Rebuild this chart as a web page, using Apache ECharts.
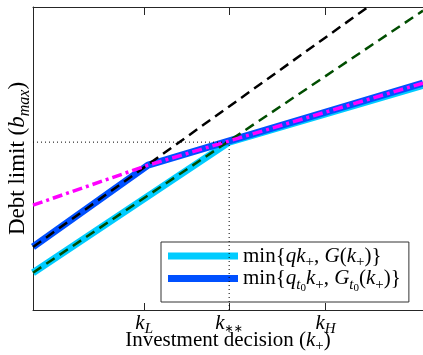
<!DOCTYPE html>
<html>
<head>
<meta charset="utf-8">
<script src="https://cdn.jsdelivr.net/npm/echarts@6/dist/echarts.min.js"></script>
<style>html,body{margin:0;padding:0;background:#fff}#c{width:423px;height:355px}</style>
</head>
<body>
<div id="c"></div>
<script>
// ---- data (abstract units: x 0..100, y 0..100) ----
const tickValues = [28.5, 50.3, 75.0];
const tickLabels = ['{i|k}{s|L}', '{i|k}{a|∗∗}', '{i|k}{s|H}'];
const minQG = [[0, 12.3], [50.3, 55.4], [100, 74.1]];          // min{qk+, G(k+)}
const minQtGt = [[0, 20.8], [29.5, 47.8], [100, 74.9]];        // min{q_t0 k+, G_t0(k+)}
const qLine = [[0, 12.3], [100, 98.8]];                         // q k+
const qtLine = [[0, 20.8], [85.9, 100]];                        // q_t0 k+
const gtCurve = [[0, 34.6], [29.5, 47.8], [100, 74.9]];         // G_t0(k+)
const guideH = [[0, 55.4], [50.3, 55.4]];
const guideV = [[50.3, 0], [50.3, 55.4]];
const legendNames = ['minQG', 'minQtGt'];
const legendLabels = [
  '{r|min{}{i|qk}{p|+}{r|, }{i|G}{r|(}{i|k}{p|+}{r|)}}',
  '{r|min{}{i|q}{s|t}{ss|0}{i|k}{p|+}{r|, }{i|G}{s|t}{ss|0}{r|(}{i|k}{p|+}{r|)}}'
];
const xName = '{r|Investment decision (}{i|k}{p|+}{r|)}';
const yName = '{r|Debt limit (}{i|b}{s|max}{r|)}';

const FONT = 'Liberation Serif';
const AX = '#262626';
function rich(fs, lh) {
  return {
    r: {fontFamily: FONT, fontSize: fs, lineHeight: lh, color: '#000', verticalAlign: 'middle'},
    i: {fontFamily: FONT, fontSize: fs, lineHeight: lh, fontStyle: 'italic', color: '#000', verticalAlign: 'middle'},
    s: {fontFamily: FONT, fontSize: Math.round(fs * 0.7), lineHeight: lh, fontStyle: 'italic', color: '#000', padding: [Math.round(fs * 0.6), 0, 0, 0], verticalAlign: 'middle'},
    a: {fontFamily: 'DejaVu Sans', fontSize: Math.round(fs * 0.5), lineHeight: lh, color: '#000', padding: [Math.round(fs * 0.55), 0, 0, 0], verticalAlign: 'middle'},
    p: {fontFamily: FONT, fontSize: Math.round(fs * 0.7), lineHeight: lh, color: '#000', padding: [Math.round(fs * 0.6), 0, 0, 0], verticalAlign: 'middle'},
    ss: {fontFamily: FONT, fontSize: Math.round(fs * 0.5), lineHeight: lh, color: '#000', padding: [Math.round(fs * 0.95), 0, 0, 0], verticalAlign: 'middle'}
  };
}

const chart = echarts.init(document.getElementById('c'), null, {renderer: 'canvas'});
const option = {
  animation: false,
  backgroundColor: '#fff',
  grid: {left: 33, right: 0, top: 7, bottom: 45, containLabel: false, outerBoundsMode: 'none'},
  xAxis: [{
    type: 'value', min: 0, max: 100, position: 'bottom',
    axisLine: {show: true, onZero: false, lineStyle: {color: AX, width: 1}},
    axisTick: {show: true, inside: true, length: 7, customValues: tickValues, lineStyle: {color: AX}},
    axisLabel: {show: true, margin: 2, customValues: tickValues,
      formatter: v => { let b = 0; tickValues.forEach((t, k) => { if (Math.abs(t - v) < Math.abs(tickValues[b] - v)) b = k; }); return tickLabels[b]; },
      rich: rich(21, 22), fontFamily: FONT, fontSize: 21},
    splitLine: {show: false},
    name: xName, nameLocation: 'middle', nameGap: 19, nameMoveOverlap: false,
    nameTextStyle: {rich: rich(21, 22), fontFamily: FONT, fontSize: 21}
  }, {
    type: 'value', min: 0, max: 100, position: 'top',
    axisLine: {show: true, onZero: false, lineStyle: {color: AX, width: 1}},
    axisTick: {show: true, inside: true, length: 8, customValues: tickValues, lineStyle: {color: AX}},
    axisLabel: {show: false}, splitLine: {show: false}
  }],
  yAxis: [{
    type: 'value', min: 0, max: 100,
    axisLine: {show: true, onZero: false, lineStyle: {color: AX, width: 1}},
    axisTick: {show: false}, axisLabel: {show: false}, splitLine: {show: false},
    name: yName, nameLocation: 'middle', nameGap: 4, nameRotate: 90, nameMoveOverlap: false,
    nameTextStyle: {rich: rich(23, 22), fontFamily: FONT, fontSize: 23}
  }],
  legend: {
    data: legendNames, orient: 'vertical', left: 161, top: 242,
    icon: 'rect', itemWidth: 70, itemHeight: 7, itemGap: -7,
    padding: [0, 8, 8, 7],
    borderColor: '#333', borderWidth: 1, backgroundColor: '#fff',
    formatter: n => legendLabels[legendNames.indexOf(n)],
    textStyle: {fontFamily: FONT, fontSize: 21, lineHeight: 22, color: '#000', rich: rich(21, 22)},
    selectedMode: false
  },
  series: [
    {name: 'minQG', type: 'line', data: minQG, symbol: 'none', z: 2,
      lineStyle: {color: '#00CCFF', width: 7}, itemStyle: {color: '#00CCFF'}},
    {name: 'minQtGt', type: 'line', data: minQtGt, symbol: 'none', z: 3,
      lineStyle: {color: '#0050FF', width: 7}, itemStyle: {color: '#0050FF'}},
    {name: 'qLine', type: 'line', data: qLine, symbol: 'none', z: 4,
      lineStyle: {color: '#004d00', width: 2.5, type: [10, 6]}},
    {name: 'qtLine', type: 'line', data: qtLine, symbol: 'none', z: 5,
      lineStyle: {color: '#000', width: 2.5, type: [10, 6]}},
    {name: 'gtCurve', type: 'line', data: gtCurve, symbol: 'none', z: 6,
      lineStyle: {color: '#FF00FF', width: 3.5, type: [10, 4, 3, 4]}},
    {name: 'guideH', type: 'line', data: guideH, symbol: 'none', z: 7,
      lineStyle: {color: '#000', width: 1, type: [1, 3]}},
    {name: 'guideV', type: 'line', data: guideV, symbol: 'none', z: 7,
      lineStyle: {color: '#000', width: 1, type: [1, 3]}}
  ]
};
chart.setOption(option);
</script>
</body>
</html>
